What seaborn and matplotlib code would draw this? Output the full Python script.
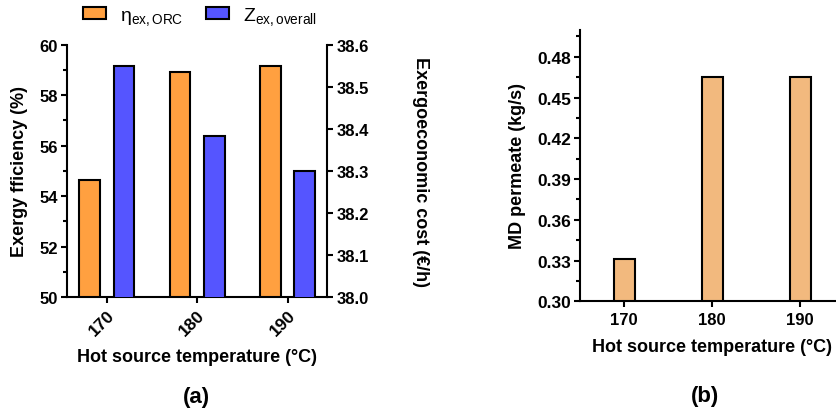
import matplotlib
matplotlib.use("Agg")
import matplotlib.pyplot as plt
import seaborn as sns
import pandas as pd
from matplotlib.ticker import MultipleLocator, FormatStrFormatter

# ---- data ----
temps = ["170", "180", "190"]
eta_ex_orc = [54.65, 58.9, 59.15]        # exergy efficiency (%), left axis
z_ex_overall = [38.55, 38.383, 38.30]    # exergoeconomic cost (EUR/h), right axis
md_permeate = [0.331, 0.465, 0.465]      # MD permeate (kg/s)
series_names = ["eta", "z"]
series_labels = [r"$\mathregular{η_{ex,ORC}}$", r"$\mathregular{Z_{ex,overall}}$"]

ORANGE = "#FFA040"
BLUE = "#5555FF"
TAN = "#F2B97E"

sns.set_theme(style="ticks")
plt.rcParams["font.family"] = ["Liberation Sans", "DejaVu Sans"]
plt.rcParams["mathtext.fontset"] = "custom"
plt.rcParams["mathtext.rm"] = "Liberation Sans"
plt.rcParams["mathtext.it"] = "Liberation Sans:italic"
plt.rcParams["mathtext.bf"] = "Liberation Sans:bold"
plt.rcParams["axes.linewidth"] = 1.5
plt.rcParams["xtick.major.width"] = 1.5
plt.rcParams["ytick.major.width"] = 1.5
plt.rcParams["ytick.minor.width"] = 1.5
plt.rcParams["xtick.major.size"] = 4.5
plt.rcParams["ytick.major.size"] = 4.5
plt.rcParams["ytick.minor.size"] = 3
for k in ["xtick.color", "ytick.color", "axes.edgecolor", "text.color", "axes.labelcolor"]:
    plt.rcParams[k] = "black"

df_eta = pd.DataFrame({"T": temps, "val": eta_ex_orc, "series": "eta"})
df_z = pd.DataFrame({"T": temps, "val": z_ex_overall, "series": "z"})
df_md = pd.DataFrame({"T": temps, "val": md_permeate})
palette = {"eta": ORANGE, "z": BLUE}

W, H = 836, 414
fig = plt.figure(figsize=(W / 100, H / 100), dpi=100)

LBL = 13
# ---- panel (a) ----
ax = fig.add_axes([67 / W, 1 - 298 / H, 260.3 / W, 252.3 / H])
sns.barplot(data=df_eta, x="T", y="val", hue="series", hue_order=series_names,
            palette=palette, order=temps, width=0.76, gap=0.40, errorbar=None,
            dodge=True, saturation=1, edgecolor="black", linewidth=1.5,
            legend=False, ax=ax)
ax2 = ax.twinx()
sns.barplot(data=df_z, x="T", y="val", hue="series", hue_order=series_names,
            palette=palette, order=temps, width=0.76, gap=0.40, errorbar=None,
            dodge=True, saturation=1, edgecolor="black", linewidth=1.5,
            legend=False, ax=ax2)
ax.set_ylim(50, 60)
ax2.set_ylim(38.0, 38.6)
ax.set_xlim(-0.44, 2.44)
ax.yaxis.set_major_locator(MultipleLocator(2))
ax.yaxis.set_minor_locator(MultipleLocator(1))
ax2.yaxis.set_major_locator(MultipleLocator(0.1))
ax2.yaxis.set_major_formatter(FormatStrFormatter("%.1f"))
for a in (ax, ax2):
    a.spines["top"].set_visible(False)
ax2.spines["left"].set_visible(False)
ax2.spines["bottom"].set_visible(False)
ax.spines["right"].set_visible(False)
ax.tick_params(axis="y", labelsize=12, pad=2)
ax2.tick_params(axis="y", labelsize=12, pad=2)
ax.tick_params(axis="x", labelsize=12.5, pad=3)
for lbl in ax.get_xticklabels():
    lbl.set_rotation(45)
    lbl.set_ha("right")
    lbl.set_rotation_mode("anchor")
for lbl in ax.get_yticklabels() + ax2.get_yticklabels() + ax.get_xticklabels():
    lbl.set_fontweight("bold")
ax.set_ylabel("Exergy fficiency (%)", fontsize=LBL, fontweight="bold", va="center")
ax.yaxis.set_label_coords((20 - 67) / 260.3, 0.5)
ax2.set_ylabel("Exergoeconomic cost (€/h)", fontsize=LBL, fontweight="bold",
               rotation=270, va="center")
ax2.yaxis.set_label_coords((421 - 67) / 260.3, 0.5)
ax.set_xlabel("Hot source temperature (°C)", fontsize=LBL, fontweight="bold", va="center")
ax.xaxis.set_label_coords(0.5, (298 - 358) / 252.3)

fig.legend([ax.patches[0], ax2.patches[-1]], series_labels, loc="center",
           bbox_to_anchor=(200 / W, 1 - 17 / H), ncol=2, frameon=False,
           fontsize=14, handlelength=1.15, handleheight=0.6, columnspacing=1.2,
           handletextpad=0.72)

# ---- panel (b) ----
bx = fig.add_axes([580.3 / W, 1 - 302.3 / H, 264 / W, 271.6 / H])
sns.barplot(data=df_md, x="T", y="val", order=temps, color=TAN, width=0.235,
            errorbar=None, saturation=1, edgecolor="black", linewidth=1.5, ax=bx)
bx.set_ylim(0.30, 0.50)
bx.set_xlim(-0.5, 2.5)
bx.yaxis.set_major_locator(MultipleLocator(0.03))
bx.yaxis.set_minor_locator(MultipleLocator(0.015))
bx.yaxis.set_major_formatter(FormatStrFormatter("%.2f"))
bx.spines["top"].set_visible(False)
bx.spines["right"].set_visible(False)
bx.tick_params(axis="y", labelsize=12.5, pad=2)
bx.tick_params(axis="x", labelsize=12, pad=3)
for lbl in bx.get_xticklabels() + bx.get_yticklabels():
    lbl.set_fontweight("bold")
bx.set_ylabel("MD permeate (kg/s)", fontsize=LBL, fontweight="bold", va="center")
bx.yaxis.set_label_coords((518 - 580.3) / 264, 0.5)
bx.set_xlabel("Hot source temperature (°C)", fontsize=LBL, fontweight="bold", va="center")
bx.xaxis.set_label_coords(0.5, (302.3 - 348) / 271.6)

fig.text(196 / W, 1 - 398 / H, "(a)", ha="center", va="center", fontsize=16, fontweight="bold")
fig.text(705.5 / W, 1 - 397 / H, "(b)", ha="center", va="center", fontsize=16, fontweight="bold")

fig.savefig("out.png", dpi=100)
